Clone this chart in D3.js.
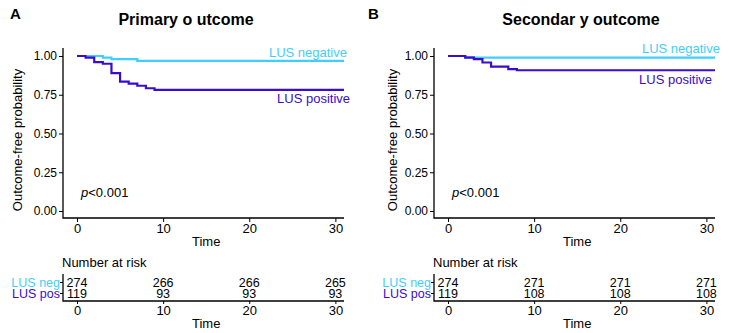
<!DOCTYPE html>
<html>
<head>
<meta charset="utf-8">
<script src="https://cdn.jsdelivr.net/npm/d3@7"></script>
<style>
  body { margin: 0; background: #fff; }
  text { font-family: "Liberation Sans", Arial, sans-serif; }
</style>
</head>
<body>
<div id="chart"></div>
<script>
// values
const timeTicks = [0, 10, 20, 30]
const probTicks = [0, 0.25, 0.5, 0.75, 1]
const followUpEnd = 31

const primaryNegTimes = [0, 3, 4, 7]
const primaryNegSurv = [1, 0.99, 0.98, 0.968]
const primaryPosTimes = [0, 1, 2, 3, 4, 5, 6, 7, 8, 9]
const primaryPosSurv = [1, 0.99, 0.96, 0.95, 0.89, 0.835, 0.822, 0.808, 0.792, 0.782]
const primaryRiskNeg = [274, 266, 266, 265]
const primaryRiskPos = [119, 93, 93, 93]

const secondaryNegTimes = [0, 2, 3]
const secondaryNegSurv = [1, 0.993, 0.989]
const secondaryPosTimes = [0, 2, 3, 4, 5, 7, 8]
const secondaryPosSurv = [1, 0.99, 0.98, 0.958, 0.932, 0.915, 0.908]
const secondaryRiskNeg = [274, 271, 271, 271]
const secondaryRiskPos = [119, 108, 108, 108]

const negColor = '#3fcfff'
const posColor = '#3a0ccf'

const panels = [
  {
    letter: 'A', title: 'Primary o utcome', left: 63, letterX: 10, titleX: 186, ylabX: 17,
    neg: primaryNegTimes.map((t, i) => [t, primaryNegSurv[i]]),
    pos: primaryPosTimes.map((t, i) => [t, primaryPosSurv[i]]),
    riskNeg: primaryRiskNeg, riskPos: primaryRiskPos,
    negLabelY: 57, posLabelY: 103, negLabelX: 347, posLabelX: 350
  },
  {
    letter: 'B', title: 'Secondar y outcome', left: 434, letterX: 368, titleX: 581, ylabX: 392,
    neg: secondaryNegTimes.map((t, i) => [t, secondaryNegSurv[i]]),
    pos: secondaryPosTimes.map((t, i) => [t, secondaryPosSurv[i]]),
    riskNeg: secondaryRiskNeg, riskPos: secondaryRiskPos,
    negLabelY: 53, posLabelY: 84, negLabelX: 720, posLabelX: 712
  }
]

const svg = d3.select('#chart').append('svg')
  .attr('width', 729).attr('height', 333)

const plotW = 281
const axisY = 218
const tableAxisY = 301
const fontFam = '"Liberation Sans", Arial, sans-serif'

panels.forEach((p) => {
  const g = svg.append('g').attr('transform', `translate(${p.left},0)`)
  const x = d3.scaleLinear().domain([0, followUpEnd]).range([14, plotW])
  const y = d3.scaleLinear().domain([0, 1]).range([211, 56])

  svg.append('text').attr('x', p.letterX).attr('y', 19)
    .attr('font-size', 15).attr('font-weight', 'bold').text(p.letter)
  svg.append('text').attr('x', p.titleX).attr('y', 25)
    .attr('text-anchor', 'middle').attr('font-size', 16).attr('font-weight', 'bold')
    .text(p.title)

  // axes
  const yAxis = g.append('g')
    .call(d3.axisLeft(y).tickValues(probTicks).tickFormat(d3.format('.2f')).tickSize(4))
  yAxis.select('.domain').remove()
  yAxis.selectAll('text').attr('font-size', 12).attr('fill', '#000')
    .attr('font-family', fontFam).attr('dx', 1)
  const xAxis = g.append('g').attr('transform', `translate(0,${axisY})`)
    .call(d3.axisBottom(x).tickValues(timeTicks).tickSize(4))
  xAxis.select('.domain').remove()
  xAxis.selectAll('text').attr('font-size', 13).attr('fill', '#000')
    .attr('font-family', fontFam).attr('dy', '0.6em')
  g.append('path').attr('d', `M0,48V${axisY}H${plotW}`)
    .attr('fill', 'none').attr('stroke', '#000').attr('stroke-width', 1.3)

  svg.append('text').attr('transform', `translate(${p.ylabX},140) rotate(-90)`)
    .attr('text-anchor', 'middle').attr('font-size', 13).attr('dy', '0.35em')
    .text('Outcome-free probability')
  g.append('text').attr('x', x(15)).attr('y', 246)
    .attr('text-anchor', 'middle').attr('font-size', 13).text('Time')

  const line = d3.line().x((d) => x(d[0])).y((d) => y(d[1])).curve(d3.curveStepAfter)
  const ext = (arr) => arr.concat([[followUpEnd, arr[arr.length - 1][1]]])
  g.append('path').datum(ext(p.neg)).attr('d', line)
    .attr('fill', 'none').attr('stroke', negColor).attr('stroke-width', 2.2)
  g.append('path').datum(ext(p.pos)).attr('d', line)
    .attr('fill', 'none').attr('stroke', posColor).attr('stroke-width', 2.2)

  g.append('text').attr('x', p.negLabelX - p.left).attr('y', p.negLabelY)
    .attr('text-anchor', 'end').attr('font-size', 13).attr('fill', negColor).text('LUS negative')
  g.append('text').attr('x', p.posLabelX - p.left).attr('y', p.posLabelY)
    .attr('text-anchor', 'end').attr('font-size', 13).attr('fill', posColor).text('LUS positive')

  const pv = g.append('text').attr('x', x(0) + 4).attr('y', 197).attr('font-size', 13)
  pv.append('tspan').attr('font-style', 'italic').text('p')
  pv.append('tspan').text('<0.001')

  // risk table
  g.append('text').attr('x', -1).attr('y', 267).attr('font-size', 13).text('Number at risk')
  const rows = [
    { label: 'LUS neg', color: negColor, vals: p.riskNeg, yc: 282.5 },
    { label: 'LUS pos', color: posColor, vals: p.riskPos, yc: 293.5 }
  ]
  rows.forEach((r) => {
    g.append('text').attr('x', -3).attr('y', r.yc + 4.5).attr('text-anchor', 'end')
      .attr('font-size', 12.5).attr('fill', r.color).text(r.label)
    g.append('line').attr('x1', -3).attr('x2', 0).attr('y1', r.yc).attr('y2', r.yc)
      .attr('stroke', '#000')
    g.selectAll(null).data(r.vals).enter().append('text')
      .attr('x', (d, i) => x(timeTicks[i])).attr('y', r.yc + 4.5)
      .attr('text-anchor', 'middle').attr('font-size', 12.5).text((d) => d)
  })
  const tAxis = g.append('g').attr('transform', `translate(0,${tableAxisY})`)
    .call(d3.axisBottom(x).tickValues(timeTicks).tickSize(3))
  tAxis.select('.domain').remove()
  tAxis.selectAll('text').attr('font-size', 13).attr('fill', '#000')
    .attr('font-family', fontFam).attr('dy', '0.6em')
  g.append('path').attr('d', `M0,274V${tableAxisY}H${plotW}`)
    .attr('fill', 'none').attr('stroke', '#000').attr('stroke-width', 1.3)
  g.append('text').attr('x', x(15)).attr('y', 328)
    .attr('text-anchor', 'middle').attr('font-size', 13).text('Time')
})
</script>
</body>
</html>
